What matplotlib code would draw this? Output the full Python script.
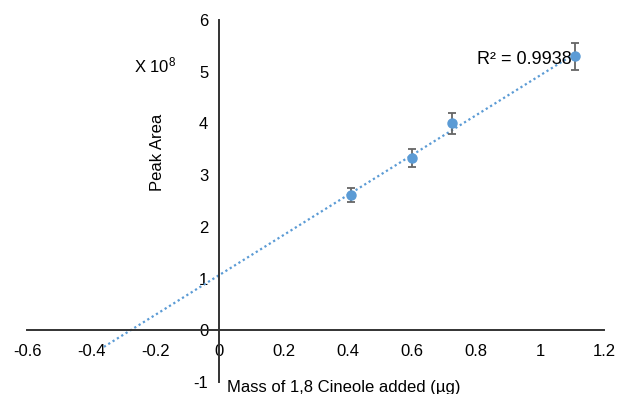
import numpy as np
import matplotlib
matplotlib.use("Agg")
import matplotlib.pyplot as plt

plt.rcParams['font.family'] = ['Liberation Sans', 'DejaVu Sans']
plt.rcParams['mathtext.fontset'] = 'custom'
plt.rcParams['mathtext.rm'] = 'Liberation Sans'
plt.rcParams['mathtext.it'] = 'Liberation Sans:italic'
plt.rcParams['axes.unicode_minus'] = False

# Data (peak area in units of 1e8)
mass_ug = [0.41, 0.60, 0.727, 1.108]
peak_area = [2.62, 3.33, 4.00, 5.30]
peak_err = [0.13, 0.17, 0.20, 0.26]
trend_start = -0.36
r2_label = "R\u00b2 = 0.9938"
x_ticks = [-0.6, -0.4, -0.2, 0, 0.2, 0.4, 0.6, 0.8, 1, 1.2]
x_ticklabels = ["-0.6", "-0.4", "-0.2", "0", "0.2", "0.4", "0.6", "0.8", "1", "1.2"]
y_ticks = [-1, 0, 1, 2, 3, 4, 5, 6]

W, H = 619, 394
fig = plt.figure(figsize=(W / 100, H / 100), dpi=100)
ax = fig.add_axes([27 / W, 1 - 382 / H, 577 / W, 362 / H])

blue = "#5B9BD5"
# trendline (least squares)
slope, intercept = np.polyfit(mass_ug, peak_area, 1)
xt = np.array([trend_start, max(mass_ug)])
ax.plot(xt, slope * xt + intercept, color=blue, lw=1.6,
        linestyle=(0, (1, 1.3)), zorder=2)

ax.errorbar(mass_ug, peak_area, yerr=peak_err, fmt='o', color=blue,
            markersize=6.5, ecolor="#666666", elinewidth=1.3, capsize=3.2,
            capthick=1.3, zorder=3)

ax.set_xlim(-0.6, 1.2)
ax.set_ylim(-1, 6)
ax.set_xticks(x_ticks)
ax.set_xticklabels(x_ticklabels)
ax.set_yticks(y_ticks)

for s in ['top', 'right']:
    ax.spines[s].set_visible(False)
ax.spines['left'].set_position(('data', 0))
ax.spines['bottom'].set_position(('data', 0))
for s in ['left', 'bottom']:
    ax.spines[s].set_color("#333333")
    ax.spines[s].set_linewidth(1.4)
ax.tick_params(axis='both', length=0, labelsize=12, colors="#000000")
ax.tick_params(axis='x', pad=10)
ax.tick_params(axis='y', pad=8)
ax.patch.set_alpha(0)

fig.text(572 / W, 1 - 59 / H, r2_label, fontsize=13, ha='right', va='center')
fig.text(227 / W, 1 - 392 / H, "Mass of 1,8 Cineole added (\u00b5g)", fontsize=12,
         ha='left', va='baseline')
fig.text(158 / W, 1 - 152 / H, "Peak Area", fontsize=12, rotation=90,
         ha='center', va='center')
fig.text(134 / W, 1 - 65 / H, r"X 10$^{\mathrm{8}}$", fontsize=12,
         ha='left', va='center')

fig.savefig("out.png", dpi=100)
